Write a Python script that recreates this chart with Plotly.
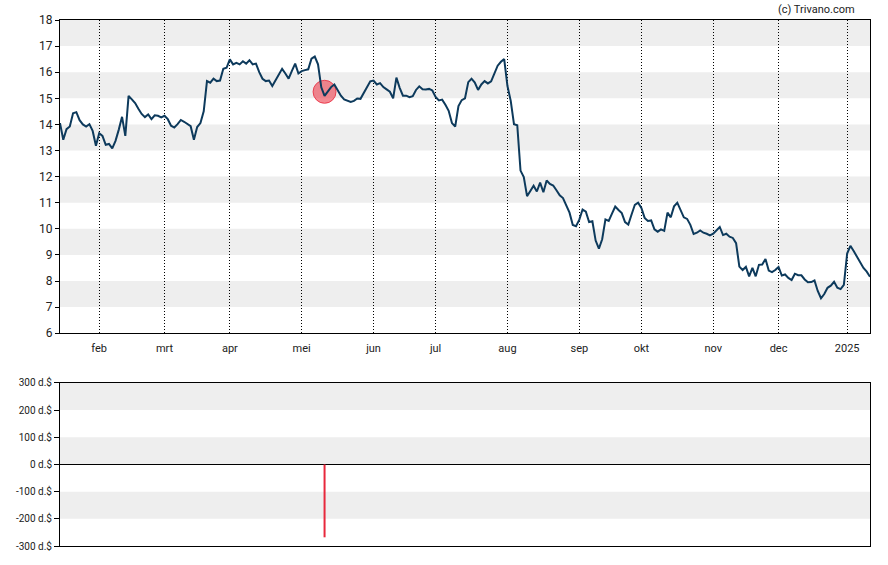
import pandas as pd
import plotly.graph_objects as go

# ---------------- data ----------------
holidays = ["2024-01-15", "2024-02-19", "2024-03-29", "2024-05-27", "2024-06-19",
            "2024-07-04", "2024-09-02", "2024-11-28", "2024-12-25", "2025-01-01",
            "2025-01-09"]
missing_days = ["2024-09-16", "2024-10-14"]  # days without a quote in the source

month_keys = ["2024-01", "2024-02", "2024-03", "2024-04", "2024-05", "2024-06", "2024-07",
              "2024-08", "2024-09", "2024-10", "2024-11", "2024-12", "2025-01"]

jan24 = [14.05, 13.41, 13.82, 13.92, 14.43, 14.47, 14.16, 14.00, 13.92, 14.01, 13.75, 13.18]
feb24 = [13.66, 13.56, 13.22, 13.25, 13.08, 13.37, 13.80, 14.29, 13.56, 15.09, 14.96, 14.82,
         14.60, 14.40, 14.28, 14.38, 14.20, 14.35, 14.33, 14.27]
mar24 = [14.33, 14.20, 13.95, 13.88, 14.01, 14.17, 14.10, 14.01, 13.93, 13.41, 13.90, 14.05,
         14.50, 15.66, 15.60, 15.75, 15.66, 15.68, 16.13, 16.17]
apr24 = [16.49, 16.30, 16.36, 16.30, 16.42, 16.33, 16.46, 16.30, 16.33, 16.00, 15.75, 15.66,
         15.68, 15.47, 15.70, 15.95, 16.13, 15.95, 15.75, 16.05, 16.33, 15.95]
may24 = [16.04, 16.08, 16.11, 16.52, 16.60, 16.30, 15.42, 15.09, 15.28, 15.43, 15.53, 15.33,
         15.10, 14.96, 14.90, 14.86, 14.90, 14.99, 14.98, 15.20, 15.45, 15.65]
jun24 = [15.68, 15.53, 15.58, 15.43, 15.34, 15.25, 15.00, 15.79, 15.40, 15.10, 15.10, 15.04,
         15.08, 15.32, 15.46, 15.35, 15.34, 15.36, 15.30]
jul24 = [15.05, 14.92, 14.95, 14.75, 14.52, 14.05, 13.92, 14.70, 14.93, 15.00, 15.62, 15.75,
         15.60, 15.32, 15.53, 15.66, 15.57, 15.65, 15.93, 16.25, 16.40, 16.50]
aug24 = [15.47, 14.90, 14.01, 13.97, 12.23, 11.98, 11.25, 11.47, 11.65, 11.43, 11.77, 11.40,
         11.85, 11.72, 11.66, 11.48, 11.28, 11.18, 10.90, 10.62, 10.15, 10.10]
sep24 = [10.35, 10.74, 10.66, 10.26, 10.29, 9.55, 9.24, 9.60, 10.36, 10.30, 10.58, 10.85,
         10.72, 10.60, 10.26, 10.16, 10.55, 10.92, 11.00]
oct24 = [10.80, 10.42, 10.30, 10.32, 9.98, 9.89, 9.98, 9.92, 10.62, 10.44, 10.86, 11.00,
         10.75, 10.44, 10.38, 10.15, 9.80, 9.85, 9.94, 9.85, 9.81, 9.75]
nov24 = [9.81, 9.94, 10.07, 9.76, 9.81, 9.70, 9.65, 9.45, 8.55, 8.42, 8.54, 8.18, 8.50, 8.18,
         8.62, 8.63, 8.84, 8.40, 8.34, 8.42]
dec24 = [8.54, 8.21, 8.25, 8.12, 8.04, 8.28, 8.22, 8.22, 8.06, 7.95, 7.96, 8.02, 7.62, 7.34,
         7.50, 7.74, 7.82, 7.97, 7.74, 7.69, 7.85]
jan25 = [9.05, 9.35, 9.15, 8.95, 8.72, 8.50, 8.36, 8.16]
monthly_prices = [jan24, feb24, mar24, apr24, may24, jun24, jul24, aug24, sep24, oct24,
                  nov24, dec24, jan25]

month_labels = ["feb", "mrt", "apr", "mei", "jun", "jul", "aug", "sep", "okt", "nov", "dec", "2025"]

trade_dates = ["2024-05-10"]
trade_prices = [15.25]
trade_values = [-268]   # d.$ (thousand dollars)

price_bands = [(7, 8), (9, 10), (11, 12), (13, 14), (15, 16), (17, 18)]
trade_bands = [(-200, -100), (0, 100), (200, 300)]
trade_ticks = [-300, -200, -100, 0, 100, 200, 300]

# ---------------- build series ----------------
days = pd.bdate_range("2024-01-16", "2025-01-14", freq="C", holidays=holidays)
days = [d for d in days if d.strftime("%Y-%m-%d") not in missing_days]
dates, prices, month_first = [], [], []
for key, vals in zip(month_keys, monthly_prices):
    md = [d.strftime("%Y-%m-%d") for d in days if d.strftime("%Y-%m") == key]
    if len(md) != len(vals):
        raise ValueError(f"{key}: {len(md)} days vs {len(vals)} values")
    dates += md
    prices += vals
    month_first.append(md[0])
tick_dates = month_first[1:]

# ---------------- figure ----------------
LINE = "#0d3a5c"
RED = "#e8283c"
FONT = "Roboto"

fig = go.Figure()
fig.add_trace(go.Scatter(
    x=trade_dates, y=trade_prices, mode="markers", xaxis="x", yaxis="y",
    marker=dict(size=23, color="rgba(236,60,75,0.6)", line=dict(color="rgba(232,40,60,0.8)", width=1)),
    hoverinfo="skip", showlegend=False))
fig.add_trace(go.Scatter(
    x=dates, y=prices, mode="lines", xaxis="x", yaxis="y",
    line=dict(color=LINE, width=2), showlegend=False))
for d, v in zip(trade_dates, trade_values):
    fig.add_trace(go.Scatter(
        x=[d, d], y=[0, v], mode="lines", xaxis="x2", yaxis="y2",
        line=dict(color=RED, width=2), showlegend=False))

shapes = []
for y0, y1 in price_bands:
    shapes.append(dict(type="rect", xref="x domain", yref="y", x0=0, x1=1, y0=y0, y1=y1,
                       fillcolor="#eeeeee", line=dict(width=0), layer="below"))
for y0, y1 in trade_bands:
    shapes.append(dict(type="rect", xref="x2 domain", yref="y2", x0=0, x1=1, y0=y0, y1=y1,
                       fillcolor="#eeeeee", line=dict(width=0), layer="below"))

H = 565
mt, mb = 20, 16
ph = H - mt - mb
top_lo = (549 - 335) / ph
bot_hi = (549 - 385) / ph

axis_common = dict(showline=True, linecolor="black", linewidth=1, mirror=True)
fig.update_layout(
    width=888, height=565,
    margin=dict(l=60, r=18, t=mt, b=mb),
    paper_bgcolor="white", plot_bgcolor="white",
    font=dict(family=FONT, color="#222222", size=11),
    shapes=shapes,
    xaxis=dict(domain=[0, 1], anchor="y", type="category", categoryorder="array",
               categoryarray=dates, range=[0, len(dates) - 1],
               tickvals=tick_dates, ticktext=month_labels, ticks="", ticklabelstandoff=5,
               showgrid=True, gridcolor="black", gridwidth=1, griddash="1px,2px",
               tickfont=dict(size=11, color="#222222"), **axis_common),
    yaxis=dict(domain=[top_lo, 1], anchor="x", range=[6, 18], dtick=1, tick0=6,
               ticks="outside", ticklen=4, tickcolor="black", showgrid=False, zeroline=False,
               tickfont=dict(size=12, color="#222222"), **axis_common),
    xaxis2=dict(domain=[0, 1], anchor="y2", type="category", categoryorder="array",
                categoryarray=dates, range=[0, len(dates) - 1], matches="x",
                showticklabels=False, ticks="", showgrid=False, **axis_common),
    yaxis2=dict(domain=[0, bot_hi], anchor="x2", range=[-300, 300],
                tickvals=trade_ticks, ticktext=[f"{t} d.$" for t in trade_ticks],
                ticks="outside", ticklen=5, tickcolor="black", showgrid=False,
                zeroline=True, zerolinecolor="black", zerolinewidth=1,
                tickfont=dict(size=10, color="#222222"), **axis_common),
    annotations=[dict(text="(c) Trivano.com", xref="paper", yref="paper",
                      x=(857 - 60) / 810, y=1 + (20 - 9) / ph, xanchor="right", yanchor="middle",
                      showarrow=False, font=dict(size=11, color="#222222", family=FONT))],
)

fig.write_html("out.html")
